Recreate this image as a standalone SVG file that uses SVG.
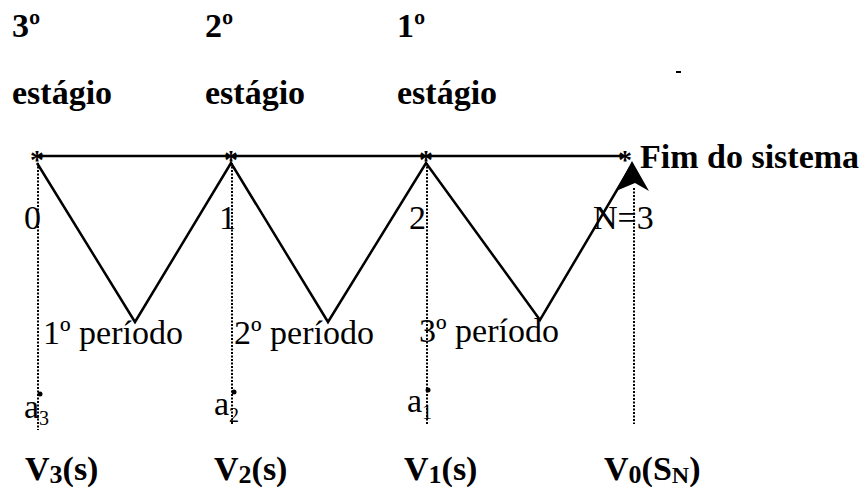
<svg xmlns="http://www.w3.org/2000/svg" width="864" height="497" viewBox="0 0 864 497">
<style>
.b{font-family:"Liberation Serif","Times New Roman",serif;font-weight:700;font-size:34px;fill:#000}
.r{font-family:"Liberation Serif","Times New Roman",serif;font-size:34px;fill:#000}
.ast{font-family:"Liberation Serif",serif;font-weight:700;font-size:28px;fill:#000;text-anchor:middle}
.ln{stroke:#000;stroke-width:2.5;fill:none}
.dot{stroke:#000;stroke-width:2;stroke-dasharray:2 1.5;fill:none}
</style>
<rect width="864" height="497" fill="#fff"/>
<g id="stage-labels">
<text class="b" x="12" y="37">3º</text>
<text class="b" x="12" y="104">estágio</text>
<text class="b" x="205" y="37">2º</text>
<text class="b" x="205" y="104">estágio</text>
<text class="b" x="397" y="37">1º</text>
<text class="b" x="397" y="104">estágio</text>
<rect x="676" y="71" width="5" height="2" fill="#000"/>
</g>
<g id="connectors">
<line class="ln" x1="37" y1="156" x2="625" y2="156"/>
<polyline class="ln" points="37,163 135,322 231,163 328,322 426,163 540,320 630,168"/>
<polygon points="632,161 616,191 635,183 649,191" fill="#000"/>
<line class="dot" x1="38" y1="163" x2="38" y2="430"/>
<line class="dot" x1="232" y1="163" x2="232" y2="424"/>
<line class="dot" x1="427" y1="163" x2="427" y2="424"/>
<line class="dot" x1="634" y1="188" x2="634" y2="424"/>
</g>
<g id="node0">
<text class="ast" x="37" y="169">*</text>
<text class="r" x="24" y="229">0</text>
</g>
<g id="node1">
<text class="ast" x="231" y="169">*</text>
<text class="r" x="219" y="229">1</text>
</g>
<g id="node2">
<text class="ast" x="426" y="169">*</text>
<text class="r" x="409" y="229">2</text>
</g>
<g id="node3">
<text class="ast" x="625" y="169">*</text>
<text class="b" x="640" y="168">Fim do sistema</text>
<text class="r" x="593" y="229">N=3</text>
</g>
<g id="periods">
<text class="r" x="43" y="344">1º período</text>
<text class="r" x="234" y="344">2º período</text>
<text class="r" x="419" y="342">3º período</text>
</g>
<g id="decisions">
<circle cx="40" cy="394" r="2.5"/>
<text class="r" x="24" y="418" font-size="30">a<tspan font-size="20" dy="7">3</tspan></text>
<circle cx="234" cy="392" r="2.5"/>
<text class="r" x="214" y="415" font-size="30">a<tspan font-size="20" dy="7">2</tspan></text>
<circle cx="428" cy="390" r="2.5"/>
<text class="r" x="407" y="412" font-size="30">a<tspan font-size="20" dy="7">1</tspan></text>
</g>
<g id="values">
<text class="b" x="25" y="480" font-size="36">V<tspan font-size="26" dy="3">3</tspan><tspan dy="-3">(s)</tspan></text>
<text class="b" x="214" y="480" font-size="36">V<tspan font-size="26" dy="3">2</tspan><tspan dy="-3">(s)</tspan></text>
<text class="b" x="404" y="480" font-size="36">V<tspan font-size="26" dy="3">1</tspan><tspan dy="-3">(s)</tspan></text>
<text class="b" x="604" y="480" font-size="36">V<tspan font-size="26" dy="3">0</tspan><tspan dy="-3">(S</tspan><tspan font-size="24" dy="3">N</tspan><tspan dy="-3">)</tspan></text>
</g>
</svg>
